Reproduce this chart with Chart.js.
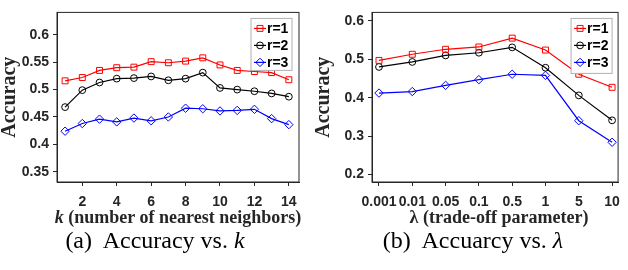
<!DOCTYPE html>
<html>
<head>
<meta charset="utf-8">
<script src="https://cdn.jsdelivr.net/npm/chart.js@4.4.0/dist/chart.umd.min.js"></script>
<style>
  body { margin: 0; background: #fff; width: 628px; height: 270px; overflow: hidden; position: relative; }
  canvas { position: absolute; top: 0; }
  .xt { position: absolute; top: 207px; line-height: 20px; font: bold 18px "Liberation Serif", serif; color: #262626; white-space: nowrap; transform: translateX(-50%); }
  .cap { position: absolute; top: 227px; line-height: 28px; font: 24px "Liberation Serif", serif; color: #000; white-space: nowrap; transform: translateX(-50%); }
</style>
</head>
<body>
<canvas id="chartK" width="314" height="210" style="left:0"></canvas>
<canvas id="chartL" width="314" height="210" style="left:314px"></canvas>
<div class="xt" style="left:178px"><i>k</i> (number of nearest neighbors)</div>
<div class="xt" style="left:499px">λ (trade-off parameter)</div>
<div class="cap" style="left:155px">(a)&nbsp; Accuracy vs. <i>k</i></div>
<div class="cap" style="left:473px">(b)&nbsp; Accuarcy vs. <i>λ</i></div>
<script>
// values
const seriesNames = ['r=1', 'r=2', 'r=3']

const kValues = [1, 2, 3, 4, 5, 6, 7, 8, 9, 10, 11, 12, 13, 14]
const kTicks = [2, 4, 6, 8, 10, 12, 14]
const accK_r1 = [0.516, 0.522, 0.535, 0.540, 0.541, 0.551, 0.549, 0.552, 0.558, 0.545, 0.535, 0.533, 0.531, 0.518]
const accK_r2 = [0.468, 0.499, 0.513, 0.520, 0.521, 0.524, 0.517, 0.520, 0.531, 0.503, 0.500, 0.497, 0.493, 0.487]
const accK_r3 = [0.424, 0.438, 0.446, 0.441, 0.448, 0.443, 0.450, 0.466, 0.465, 0.461, 0.462, 0.464, 0.447, 0.436]
const yTicksK = [0.35, 0.4, 0.45, 0.5, 0.55, 0.6]

const lambdaLabels = ['0.001', '0.01', '0.05', '0.1', '0.5', '1', '5', '10']
const accL_r1 = [0.497, 0.513, 0.526, 0.532, 0.555, 0.524, 0.461, 0.427]
const accL_r2 = [0.480, 0.493, 0.510, 0.517, 0.531, 0.478, 0.406, 0.341]
const accL_r3 = [0.412, 0.416, 0.432, 0.447, 0.461, 0.458, 0.340, 0.284]
const yTicksL = [0.2, 0.3, 0.4, 0.5, 0.6]

const AXIS = '#262626'
const styles = [
  { color: '#ff0000', pointStyle: 'rect', radius: 4.2 },
  { color: '#000000', pointStyle: 'circle', radius: 3.4 },
  { color: '#0000ff', pointStyle: 'rectRot', radius: 4.2 }
]

const frame = {
  id: 'frame',
  afterDatasetsDraw(chart) {
    const { ctx, chartArea: a } = chart
    ctx.save()
    ctx.strokeStyle = AXIS
    ctx.lineWidth = 1
    ctx.strokeRect(a.left, a.top, a.right - a.left, a.bottom - a.top)
    ctx.restore()
  }
}

const boxLegend = {
  id: 'boxLegend',
  afterDraw(chart, args, o) {
    const { ctx, chartArea: a } = chart
    const x1 = a.right - o.right - o.width
    const y1 = a.top + o.top
    ctx.save()
    ctx.fillStyle = '#fff'
    ctx.fillRect(x1, y1, o.width, o.height)
    ctx.strokeStyle = '#b0b0b0'
    ctx.lineWidth = 1
    ctx.strokeRect(x1, y1, o.width, o.height)
    ctx.font = 'bold 14px "Liberation Sans", Arial, sans-serif'
    ctx.textBaseline = 'middle'
    chart.data.datasets.forEach((ds, i) => {
      const y = y1 + 10 + i * 17
      ctx.strokeStyle = ds.borderColor
      ctx.lineWidth = ds.borderWidth
      ctx.beginPath()
      ctx.moveTo(x1 + 3, y)
      ctx.lineTo(x1 + 15, y)
      ctx.stroke()
      ctx.lineWidth = 1
      ctx.fillStyle = 'rgba(0,0,0,0)'
      Chart.helpers.drawPoint(ctx, { pointStyle: ds.pointStyle, radius: ds.pointRadius, rotation: 0, borderWidth: 1 }, x1 + 9, y)
      ctx.fillStyle = '#000'
      ctx.fillText(ds.label, x1 + 16, y + 0.5)
    })
    ctx.restore()
  }
}

function makeDatasets(xs, series) {
  return series.map((vals, i) => ({
    label: seriesNames[i],
    data: vals.map((v, j) => ({ x: xs[j], y: v })),
    borderColor: styles[i].color,
    borderWidth: 1.2,
    pointStyle: styles[i].pointStyle,
    pointRadius: styles[i].radius,
    pointBorderWidth: 1,
    pointBorderColor: styles[i].color,
    pointBackgroundColor: 'rgba(0,0,0,0)',
    tension: 0
  }))
}

function tickFont() {
  return { family: '"Liberation Sans", Arial, sans-serif', weight: 'bold', size: 14 }
}

function makeChart(id, cfg) {
  return new Chart(document.getElementById(id), {
    type: 'line',
    data: { datasets: makeDatasets(cfg.xs, cfg.series) },
    options: {
      responsive: false,
      animation: false,
      devicePixelRatio: 1,
      layout: { padding: { top: 1, right: cfg.padRight, left: 0, bottom: 0 } },
      plugins: {
        legend: { display: false },
        tooltip: { enabled: false },
        boxLegend: cfg.legend
      },
      scales: {
        x: {
          type: 'linear',
          min: cfg.xMin,
          max: cfg.xMax,
          afterBuildTicks: s => { s.ticks = cfg.xTicks.map(v => ({ value: v })) },
          afterFit: s => { s.height = 28 },
          grid: { drawOnChartArea: false, tickLength: 4, tickColor: AXIS },
          border: { color: AXIS },
          ticks: { autoSkip: false, maxRotation: 0, padding: 8, color: AXIS, font: tickFont(), callback: cfg.xLabel }
        },
        y: {
          min: cfg.yMin,
          max: cfg.yMax,
          afterBuildTicks: s => { s.ticks = cfg.yTicks.map(v => ({ value: v })) },
          afterFit: s => { s.width = cfg.yWidth },
          title: {
            display: true, text: 'Accuracy', color: AXIS,
            font: { family: '"Liberation Serif", serif', weight: 'bold', size: 20, lineHeight: 1 },
            padding: { top: 0, bottom: 0 }
          },
          grid: { drawOnChartArea: false, tickLength: 4, tickColor: AXIS },
          border: { color: AXIS },
          ticks: { padding: 4, color: AXIS, font: tickFont(), callback: v => String(v) }
        }
      }
    },
    plugins: [frame, boxLegend]
  })
}

makeChart('chartK', {
  xs: kValues,
  series: [accK_r1, accK_r2, accK_r3],
  xMin: 0.53, xMax: 14.59, xTicks: kTicks, xLabel: v => String(v),
  yMin: 0.3312, yMax: 0.641, yTicks: yTicksK, yWidth: 57,
  padRight: 15,
  legend: { right: 7, top: 6, width: 41, height: 52 }
})

makeChart('chartL', {
  xs: lambdaLabels.map((l, i) => i),
  series: [accL_r1, accL_r2, accL_r3],
  xMin: -0.21, xMax: 7.18, xTicks: lambdaLabels.map((l, i) => i), xLabel: v => lambdaLabels[v],
  yMin: 0.1805, yMax: 0.622, yTicks: yTicksL, yWidth: 58,
  padRight: 1,
  legend: { right: 6, top: 6, width: 41, height: 55 }
})
</script>
</body>
</html>
